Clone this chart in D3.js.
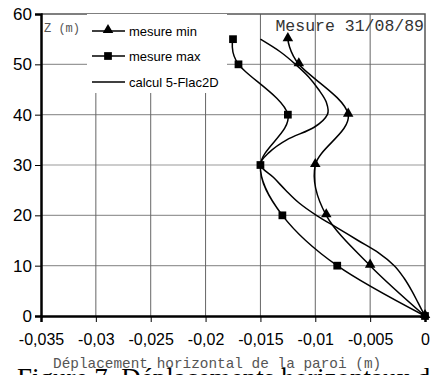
<!DOCTYPE html>
<html>
<head>
<meta charset="utf-8">
<script src="https://cdn.jsdelivr.net/npm/d3@7"></script>
<style>
  body { margin: 0; background: #fff; overflow: hidden; }
</style>
</head>
<body>
<svg width="431" height="375"></svg>
<script>
// profondeur Z (m) et deplacements (m)
const minZ = [55, 50, 40, 30, 20, 10, 0]
const minX = [-0.0125, -0.0115, -0.007, -0.01, -0.009, -0.005, 0]
const maxZ = [55, 50, 40, 30, 20, 10, 0]
const maxX = [-0.0175, -0.017, -0.0125, -0.015, -0.013, -0.008, 0]
const calcZ = [55, 52.5, 50, 47.5, 45, 42.5, 40, 37.5, 35, 32.5, 30, 27.5, 25, 22.5, 20, 17.5, 15, 12.5, 10, 7.5, 5, 2.5, 0]
const calcX = [-0.015, -0.0132, -0.0118, -0.0106, -0.0097, -0.009, -0.0089, -0.0101, -0.0126, -0.0142, -0.015,
    -0.0138, -0.0127, -0.0115, -0.0099, -0.008, -0.0061, -0.0042, -0.0028, -0.0019, -0.0012, -0.0006, 0]
const xTicks = [-0.035, -0.03, -0.025, -0.02, -0.015, -0.01, -0.005, 0]
const yTicks = [0, 10, 20, 30, 40, 50, 60]
const legendLabels = ["mesure min", "mesure max", "calcul 5-Flac2D"]

const margin = { top: 14, right: 6, bottom: 59, left: 41 }
const width = 431 - margin.left - margin.right
const height = 375 - margin.top - margin.bottom

const svg = d3.select("svg")

// legende de la figure, coupee en bas
svg.append("text")
    .attr("x", 17)
    .attr("y", 387)
    .style("font-family", "'Liberation Serif', serif")
    .style("font-size", "27px")
    .style("fill", "#000")
    .text("Figure 7. Déplacements horizontaux de")

const g = svg.append("g")
    .attr("transform", "translate(" + margin.left + "," + margin.top + ")")

const xScale = d3.scaleLinear().domain([-0.035, 0]).range([0, width])
const yScale = d3.scaleLinear().domain([0, 60]).range([height, 0])

g.append("g")
    .selectAll("line")
    .data(yTicks.slice(1, -1))
    .enter()
    .append("line")
    .attr("x1", 0).attr("x2", width)
    .attr("y1", d => yScale(d)).attr("y2", d => yScale(d))
    .style("stroke", "#999")
    .style("stroke-width", 1.2)

g.append("g")
    .selectAll("line")
    .data(xTicks.slice(1, -1))
    .enter()
    .append("line")
    .attr("x1", d => xScale(d)).attr("x2", d => xScale(d))
    .attr("y1", 0).attr("y2", height)
    .style("stroke", "#666")
    .style("stroke-width", 1)

// bordure haut / droite
g.append("path")
    .attr("d", "M0,0H" + width + "V" + height)
    .style("fill", "none")
    .style("stroke", "#555")
    .style("stroke-width", 1.5)

// fond blanc de la legende
g.append("rect")
    .attr("x", 46).attr("y", 0)
    .attr("width", 140).attr("height", 79)
    .style("fill", "#fff")

const xAxis = g.append("g")
    .attr("transform", "translate(0," + height + ")")
    .call(d3.axisBottom(xScale).tickValues(xTicks).tickSize(6).tickPadding(12)
        .tickFormat(d => d === 0 ? "0" : String(d).replace(".", ",")))
xAxis.select(".domain").style("stroke-width", 2.5)
xAxis.selectAll("text")
    .style("font-family", "Arial, 'Liberation Sans', sans-serif")
    .style("font-size", "16px")
    .style("fill", "#000")

const yAxis = g.append("g")
    .call(d3.axisLeft(yScale).tickValues(yTicks).tickSize(6).tickPadding(3))
yAxis.select(".domain").style("stroke-width", 2.5)
yAxis.selectAll("text")
    .style("font-family", "Arial, 'Liberation Sans', sans-serif")
    .style("font-size", "17px")
    .style("fill", "#000")

const line = d3.line()
    .x(d => xScale(d[0]))
    .y(d => yScale(d[1]))
    .curve(d3.curveCatmullRom.alpha(0))

const minData = minX.map((x, i) => [x, minZ[i]])
const maxData = maxX.map((x, i) => [x, maxZ[i]])
const calcData = calcX.map((x, i) => [x, calcZ[i]])

const tri = d3.symbol().type(d3.symbolTriangle).size(48)
const sq = d3.symbol().type(d3.symbolSquare).size(60)

g.append("path").datum(calcData).attr("d", line)
    .style("fill", "none").style("stroke", "#000").style("stroke-width", 1.5)
g.append("path").datum(minData).attr("d", line)
    .style("fill", "none").style("stroke", "#000").style("stroke-width", 1.5)
g.append("path").datum(maxData).attr("d", line)
    .style("fill", "none").style("stroke", "#000").style("stroke-width", 1.5)

g.selectAll(".tri")
    .data(minData)
    .enter()
    .append("path")
    .attr("class", "tri")
    .attr("transform", d => "translate(" + xScale(d[0]) + "," + (yScale(d[1]) - 1) + ")")
    .attr("d", tri)
    .style("fill", "#000")

g.selectAll(".sq")
    .data(maxData)
    .enter()
    .append("path")
    .attr("class", "sq")
    .attr("transform", d => "translate(" + xScale(d[0]) + "," + yScale(d[1]) + ")")
    .attr("d", sq)
    .style("fill", "#000")

// legende
const legend = g.append("g")
legendLabels.forEach((label, i) => {
    const ly = [17, 42, 68][i]
    legend.append("line")
        .attr("x1", 51).attr("x2", 84)
        .attr("y1", ly).attr("y2", ly)
        .style("stroke", "#000").style("stroke-width", 1.5)
    if (i < 2) {
        legend.append("path")
            .attr("transform", "translate(67," + (ly - (i === 0 ? 1 : 0)) + ")")
            .attr("d", i === 0 ? tri : sq)
            .style("fill", "#000")
    }
    legend.append("text")
        .attr("x", 88)
        .attr("y", ly + 5)
        .style("font-family", "Arial, 'Liberation Sans', sans-serif")
        .style("font-size", "13px")
        .text(label)
})

g.append("text")
    .attr("x", 3).attr("y", 18)
    .style("font-family", "'Liberation Mono', monospace")
    .style("font-size", "12px")
    .style("fill", "#555")
    .text("Z (m)")

g.append("text")
    .attr("x", width - 1).attr("y", 17)
    .attr("text-anchor", "end")
    .style("font-family", "'Liberation Mono', monospace")
    .style("font-size", "16.5px")
    .style("fill", "#333")
    .text("Mesure 31/08/89")

svg.append("text")
    .attr("x", 53).attr("y", 368)
    .style("font-family", "'Liberation Mono', monospace")
    .style("font-size", "14.4px")
    .style("fill", "#555")
    .text("Déplacement horizontal de la paroi (m)")
</script>
</body>
</html>
